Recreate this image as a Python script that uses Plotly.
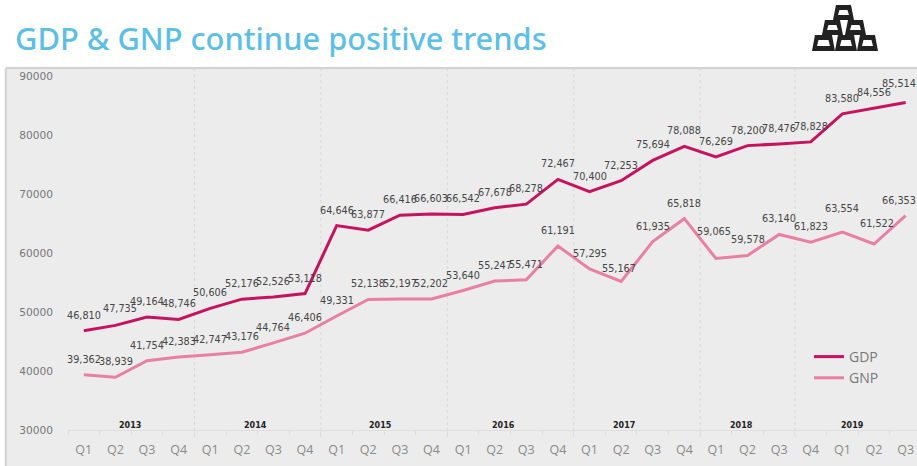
import plotly.graph_objects as go

# Quarterly series, 2013 Q1 to 2019 Q3
quarters = ["Q1", "Q2", "Q3", "Q4", "Q1", "Q2", "Q3", "Q4", "Q1", "Q2", "Q3", "Q4", "Q1", "Q2",
            "Q3", "Q4", "Q1", "Q2", "Q3", "Q4", "Q1", "Q2", "Q3", "Q4", "Q1", "Q2", "Q3"]
gdp = [46810, 47735, 49164, 48746, 50606, 52176, 52526, 53118, 64646, 63877, 66416, 66603, 66542, 67678,
       68278, 72467, 70400, 72253, 75694, 78088, 76269, 78200, 78476, 78828, 83580, 84556, 85514]
gnp = [39362, 38939, 41754, 42383, 42747, 43176, 44764, 46406, 49331, 52138, 52197, 52202, 53640, 55247,
       55471, 61191, 57295, 55167, 61935, 65818, 59065, 59578, 63140, 61823, 63554, 61522, 66353]
years = ["2013", "2014", "2015", "2016", "2017", "2018", "2019"]
year_lengths = [4, 4, 4, 4, 4, 3, 4]
y_ticks = [30000, 40000, 50000, 60000, 70000, 80000, 90000]

WIDTH, HEIGHT = 917, 466
LEFT, TOP, BOTTOM = 68.2, 76, 430
STEP = 31.6
INK = "#222222"

# Hand placement of crowded labels: (dx, dy) in pixels, by series and quarter index
LABEL_LIFT = 15.5
gdp_nudges = {1: (5, 1.5), 26: (-6.5, 3.5)}
gnp_nudges = {1: (1, 0), 17: (-2, -2.5), 20: (-2, 11.5), 24: (0, 8.5), 25: (3, 5.5), 26: (-6.5, 0)}
# Year captions sit slightly left of the middle of their span
year_shifts = [-1, -2, -4, -7, -13, -6, -6]


def px(x):
    return (x - LEFT) / (WIDTH - LEFT)


def py(y):
    return (BOTTOM - y) / (BOTTOM - TOP)


def bar_path(x0, x1, y0, y1, w=5):
    """A gold bar: outlined trapezoid with a hollow centre."""
    def pt(x, y):
        return f"{px(x):.5f},{py(y):.5f}"
    outer = f"M{pt(x0 + 3, y0)} L{pt(x1 - 3, y0)} L{pt(x1, y1)} L{pt(x0, y1)} Z"
    inner = (f"M{pt(x0 + w + 1.5, y0 + w)} L{pt(x1 - w - 1.5, y0 + w)} "
             f"L{pt(x1 - w, y1 - w)} L{pt(x0 + w, y1 - w)} Z")
    return outer + " " + inner


fig = go.Figure()
x_index = list(range(len(quarters)))
fig.add_trace(go.Scatter(x=x_index, y=gdp, mode="lines", name="GDP", legendgroup="gdp",
                         line=dict(color="#c7125f", width=3)))
fig.add_trace(go.Scatter(x=x_index, y=gnp, mode="lines", name="GNP", legendgroup="gnp",
                         line=dict(color="#e97fa2", width=3)))

# Value labels above every point
for series, nudges in ((gdp, gdp_nudges), (gnp, gnp_nudges)):
    for i, v in enumerate(series):
        dx, dy = nudges.get(i, (0, 0))
        fig.add_annotation(x=i, y=v, text=f"{v:,}", showarrow=False,
                           xshift=dx, yshift=LABEL_LIFT + dy,
                           font=dict(family="DejaVu Sans", size=9.7, color="#454545"))

# Panel behind the plot, with its top and left rules
shapes = [
    dict(type="rect", xref="paper", yref="paper", layer="below",
         x0=px(6), x1=px(WIDTH), y0=py(HEIGHT), y1=py(68),
         fillcolor="#ececec", line_width=0),
    dict(type="line", xref="paper", yref="paper", layer="below",
         x0=px(6), x1=px(WIDTH), y0=py(68), y1=py(68), line=dict(color="#d2d2d2", width=2)),
    dict(type="line", xref="paper", yref="paper", layer="below",
         x0=px(6), x1=px(6), y0=py(HEIGHT), y1=py(68), line=dict(color="#d2d2d2", width=2)),
]

# Year labels and the dotted separators between years
start = 0
for year, n, shift in zip(years, year_lengths, year_shifts):
    fig.add_annotation(x=start + (n - 1) / 2, y=y_ticks[0], text=f"<b>{year}</b>", showarrow=False,
                       xshift=shift, yshift=5, font=dict(family="DejaVu Sans", size=8, color="#222222"))
    start += n
    if start < len(quarters):
        shapes.append(dict(type="line", xref="x", yref="paper", layer="below",
                           x0=start - 0.5, x1=start - 0.5, y0=py(437), y1=py(66),
                           line=dict(color="#d9d9d9", width=1, dash="dot")))

# Stack of gold bars, top right
bars = [(833, 854, 5, 20), (822, 843, 20, 35), (845, 866, 20, 35),
        (812, 835, 35, 51), (835, 857, 35, 51), (857, 878, 35, 51)]
for b in bars:
    shapes.append(dict(type="path", xref="paper", yref="paper", path=bar_path(*b),
                       fillcolor=INK, line_width=0))

fig.update_layout(
    width=WIDTH, height=HEIGHT,
    margin=dict(l=LEFT, r=0, t=TOP, b=HEIGHT - BOTTOM, pad=0),
    paper_bgcolor="white", plot_bgcolor="rgba(0,0,0,0)",
    font=dict(family="Open Sans"),
    title=dict(text="GDP &amp; GNP continue positive trends", xref="container", yref="container",
               x=15 / WIDTH, xanchor="left", y=1 - 39 / HEIGHT, yanchor="middle",
               font=dict(family="Noto Sans", size=30.8, color="#5cbfe7", weight=500)),
    showlegend=True,
    legend=dict(xref="paper", yref="paper", x=px(809), xanchor="left", y=py(341), yanchor="top",
                bgcolor="rgba(0,0,0,0)", font=dict(family="Open Sans", size=14, color="#777777"),
                itemwidth=30, tracegroupgap=6, traceorder="normal"),
    shapes=shapes,
    xaxis=dict(range=[-0.5, (WIDTH - LEFT) / STEP - 0.5], tickmode="array", tickvals=x_index,
               ticktext=quarters, ticks="", showgrid=False, zeroline=False, showline=True,
               linecolor="#dedede", linewidth=1, ticklabelstandoff=8,
               tickfont=dict(family="Open Sans", size=12.5, color="#8a8a8a"),
               minor=dict(tickmode="array", tickvals=[i - 0.5 for i in x_index], ticks="outside",
                          ticklen=4, tickcolor="#dedede", tickwidth=1, showgrid=False)),
    yaxis=dict(range=[y_ticks[0], y_ticks[-1]], tickmode="array", tickvals=y_ticks,
               ticktext=[str(v) for v in y_ticks], showgrid=False, zeroline=False, showline=False,
               ticks="", ticklabelstandoff=14,
               tickfont=dict(family="DejaVu Sans", size=10.6, color="#777777")),
)

fig.write_html("out.html")
